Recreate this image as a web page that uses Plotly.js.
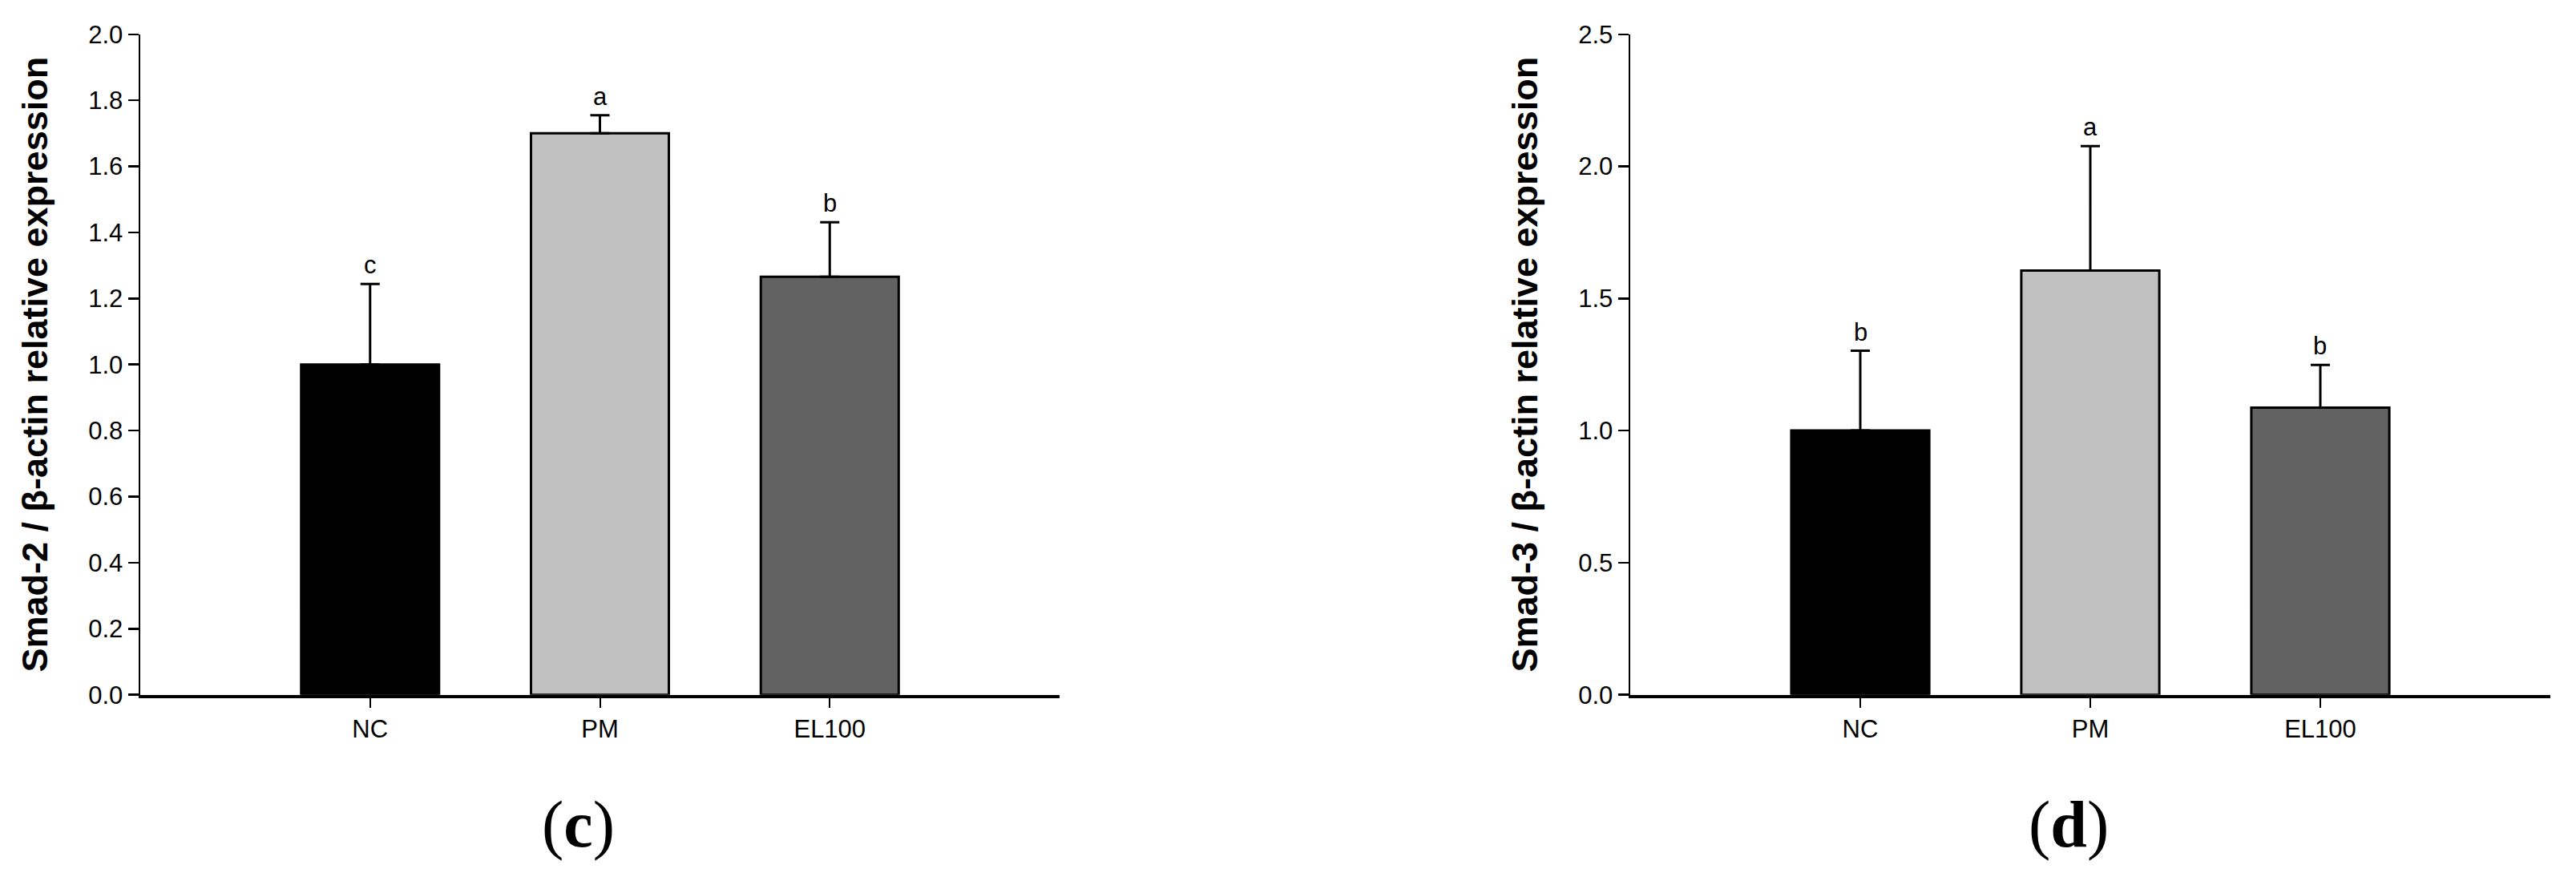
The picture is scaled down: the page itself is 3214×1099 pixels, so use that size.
<!DOCTYPE html>
<html>
<head>
<meta charset="utf-8">
<script src="https://cdn.plot.ly/plotly-3.0.1.min.js"></script>
<style>
  html, body { margin: 0; padding: 0; background: #fff; }
  #chart { width: 3214px; height: 1099px; }
</style>
</head>
<body>
<div id="chart"></div>
<script>
var groups = ['NC', 'PM', 'EL100'];
var barColors = ['#000000', '#c0c0c0', '#626262'];

// panel (c) Smad-2
var smad2Mean = [1.00, 1.70, 1.266];
var smad2Err = [0.244, 0.055, 0.165];
var smad2Letters = ['c', 'a', 'b'];

// panel (d) Smad-3
var smad3Mean = [1.00, 1.606, 1.087];
var smad3Err = [0.302, 0.471, 0.161];
var smad3Letters = ['b', 'a', 'b'];

var tickFont = {family: 'Liberation Sans, Arial, sans-serif', size: 31, color: '#000'};

function barTrace(means, errs, xa, ya) {
  return {
    type: 'bar',
    x: groups,
    y: means,
    xaxis: xa,
    yaxis: ya,
    width: 0.6,
    marker: {color: barColors, line: {color: '#000', width: 3}},
    error_y: {
      type: 'data',
      symmetric: false,
      array: errs,
      arrayminus: errs.map(function () { return 0; }),
      color: '#000',
      thickness: 3,
      width: 12
    },
    hoverinfo: 'none',
    showlegend: false
  };
}

function letterNotes(means, errs, letters, xa, ya) {
  return letters.map(function (t, i) {
    return {
      xref: xa, yref: ya,
      x: groups[i], y: means[i] + errs[i],
      text: t, showarrow: false,
      yanchor: 'bottom', yshift: 4,
      font: tickFont
    };
  });
}

function yAxis(maxVal, step, titleText) {
  return {
    domain: [0.2114, 0.9611],
    range: [0, maxVal],
    dtick: step,
    tick0: 0,
    tickformat: '.1f',
    showgrid: false,
    zeroline: false,
    showline: true,
    linecolor: '#000',
    linewidth: 2.5,
    ticks: 'outside',
    ticklen: 13,
    tickwidth: 2.5,
    tickcolor: '#000',
    tickfont: tickFont,
    title: {
      text: titleText,
      standoff: 37,
      font: {family: 'Liberation Sans, Arial, sans-serif', size: 45, color: '#000', weight: 'bold'}
    }
  };
}

function xAxis(dom) {
  return {
    domain: dom,
    type: 'category',
    range: [-1, 3],
    showgrid: false,
    zeroline: false,
    showline: true,
    linecolor: '#000',
    linewidth: 4,
    ticks: 'outside',
    ticklen: 12,
    tickwidth: 2,
    tickcolor: '#000',
    tickfont: tickFont
  };
}

var data = [
  barTrace(smad2Mean, smad2Err, 'x', 'y'),
  barTrace(smad3Mean, smad3Err, 'x2', 'y2')
];

var annotations = []
  .concat(letterNotes(smad2Mean, smad2Err, smad2Letters, 'x', 'y'))
  .concat(letterNotes(smad3Mean, smad3Err, smad3Letters, 'x2', 'y2'))
  .concat([
    {xref: 'paper', yref: 'paper', x: 0.2245, y: 0.0641, text: '(<b>c</b>)', showarrow: false,
     xanchor: 'center', yanchor: 'middle',
     font: {family: 'Liberation Serif, Times New Roman, serif', size: 82, color: '#000'}},
    {xref: 'paper', yref: 'paper', x: 0.8032, y: 0.0641, text: '(<b>d</b>)', showarrow: false,
     xanchor: 'center', yanchor: 'middle',
     font: {family: 'Liberation Serif, Times New Roman, serif', size: 82, color: '#000'}}
  ]);

var layout = {
  width: 3214,
  height: 1099,
  margin: {l: 0, r: 0, t: 0, b: 0},
  paper_bgcolor: '#fff',
  plot_bgcolor: '#fff',
  xaxis: xAxis([0.05445, 0.41133]),
  yaxis: yAxis(2.0, 0.2, 'Smad-2 / β-actin relative expression'),
  xaxis2: xAxis([0.63286, 0.99004]),
  yaxis2: Object.assign(yAxis(2.5, 0.5, 'Smad-3 / β-actin relative expression'), {anchor: 'x2'}),
  annotations: annotations,
  showlegend: false
};
layout.xaxis2.anchor = 'y2';

Plotly.newPlot('chart', data, layout, {staticPlot: true});
</script>
</body>
</html>
